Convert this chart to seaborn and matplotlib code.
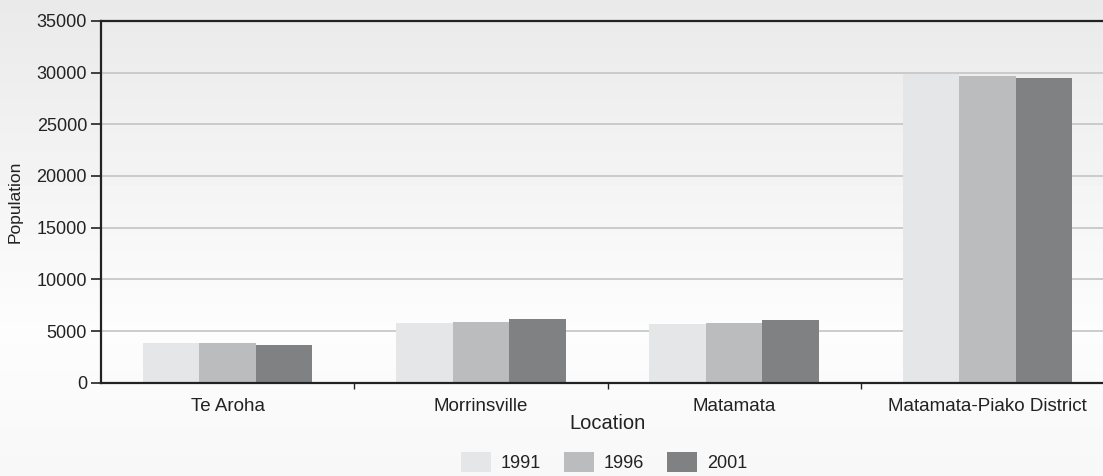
import matplotlib
matplotlib.use("Agg")
import matplotlib.pyplot as plt
import seaborn as sns
import pandas as pd
import numpy as np
from matplotlib.ticker import FixedLocator

# data
locations = ['Te Aroha', 'Morrinsville', 'Matamata', 'Matamata-Piako District']
years = ['1991', '1996', '2001']
pop_1991 = [3840, 5770, 5680, 29850]
pop_1996 = [3840, 5870, 5770, 29650]
pop_2001 = [3650, 6160, 6060, 29500]
y_ticks = [0, 5000, 10000, 15000, 20000, 25000, 30000, 35000]

bar_colors = ['#e5e6e8', '#bbbcbe', '#808183']
text_color = '#222222'

df = pd.DataFrame({
    'Location': locations * 3,
    'Year': [years[0]] * 4 + [years[1]] * 4 + [years[2]] * 4,
    'Population': pop_1991 + pop_1996 + pop_2001,
})

sns.set_theme(style="white")
plt.rcParams['font.family'] = ['Liberation Sans', 'DejaVu Sans']
plt.rcParams['text.color'] = text_color
plt.rcParams['axes.labelcolor'] = text_color
plt.rcParams['xtick.color'] = text_color
plt.rcParams['ytick.color'] = text_color

fig = plt.figure(figsize=(11.03, 4.76), dpi=100)

# soft grey-to-white backdrop
bg = fig.add_axes([0, 0, 1, 1], zorder=-10)
rows = np.concatenate([np.linspace(0.915, 0.99, 330), np.linspace(0.99, 0.97, 146)])
bg.imshow(np.tile(rows[:, None], (1, 10)), cmap='gray', vmin=0, vmax=1,
          aspect='auto', extent=[0, 1, 0, 1], origin='upper')
bg.set_axis_off()

ax = fig.add_axes([101 / 1103, 93.3 / 476, 1013 / 1103, 361.9 / 476])
ax.patch.set_alpha(0)

sns.barplot(data=df, x='Location', y='Population', hue='Year', hue_order=years,
            palette=bar_colors, width=0.67, gap=0, linewidth=0, saturation=1,
            errorbar=None, ax=ax)

ax.set_ylim(0, 35000)
ax.set_yticks(y_ticks)
ax.set_xlim(-0.5, 3.5)
ax.yaxis.grid(True, color='#c8c8c8', linewidth=1.3)
ax.set_axisbelow(True)

for side in ['left', 'bottom', 'top', 'right']:
    ax.spines[side].set_color(text_color)
    ax.spines[side].set_linewidth(1.6)

ax.tick_params(axis='y', length=7, width=1.2, pad=3, labelsize=13, left=True)
ax.tick_params(axis='x', which='major', length=0, pad=11, labelsize=13.5)
ax.xaxis.set_minor_locator(FixedLocator([0.5, 1.5, 2.5]))
ax.tick_params(axis='x', which='minor', length=4, width=1, bottom=True, direction='out')

ax.set_xlabel('Location', fontsize=14.5, labelpad=-1)
ax.set_ylabel('Population', fontsize=12.5, labelpad=10)

ax.get_legend().remove()
handles, labels = ax.get_legend_handles_labels()
fig.legend(handles, labels, loc='center', bbox_to_anchor=(604 / 1103, 14 / 476),
           ncol=3, frameon=False, fontsize=13, handlelength=1.67, handleheight=1.33,
           handletextpad=0.55, columnspacing=1.25, borderpad=0)

fig.savefig('out.png', dpi=100)
